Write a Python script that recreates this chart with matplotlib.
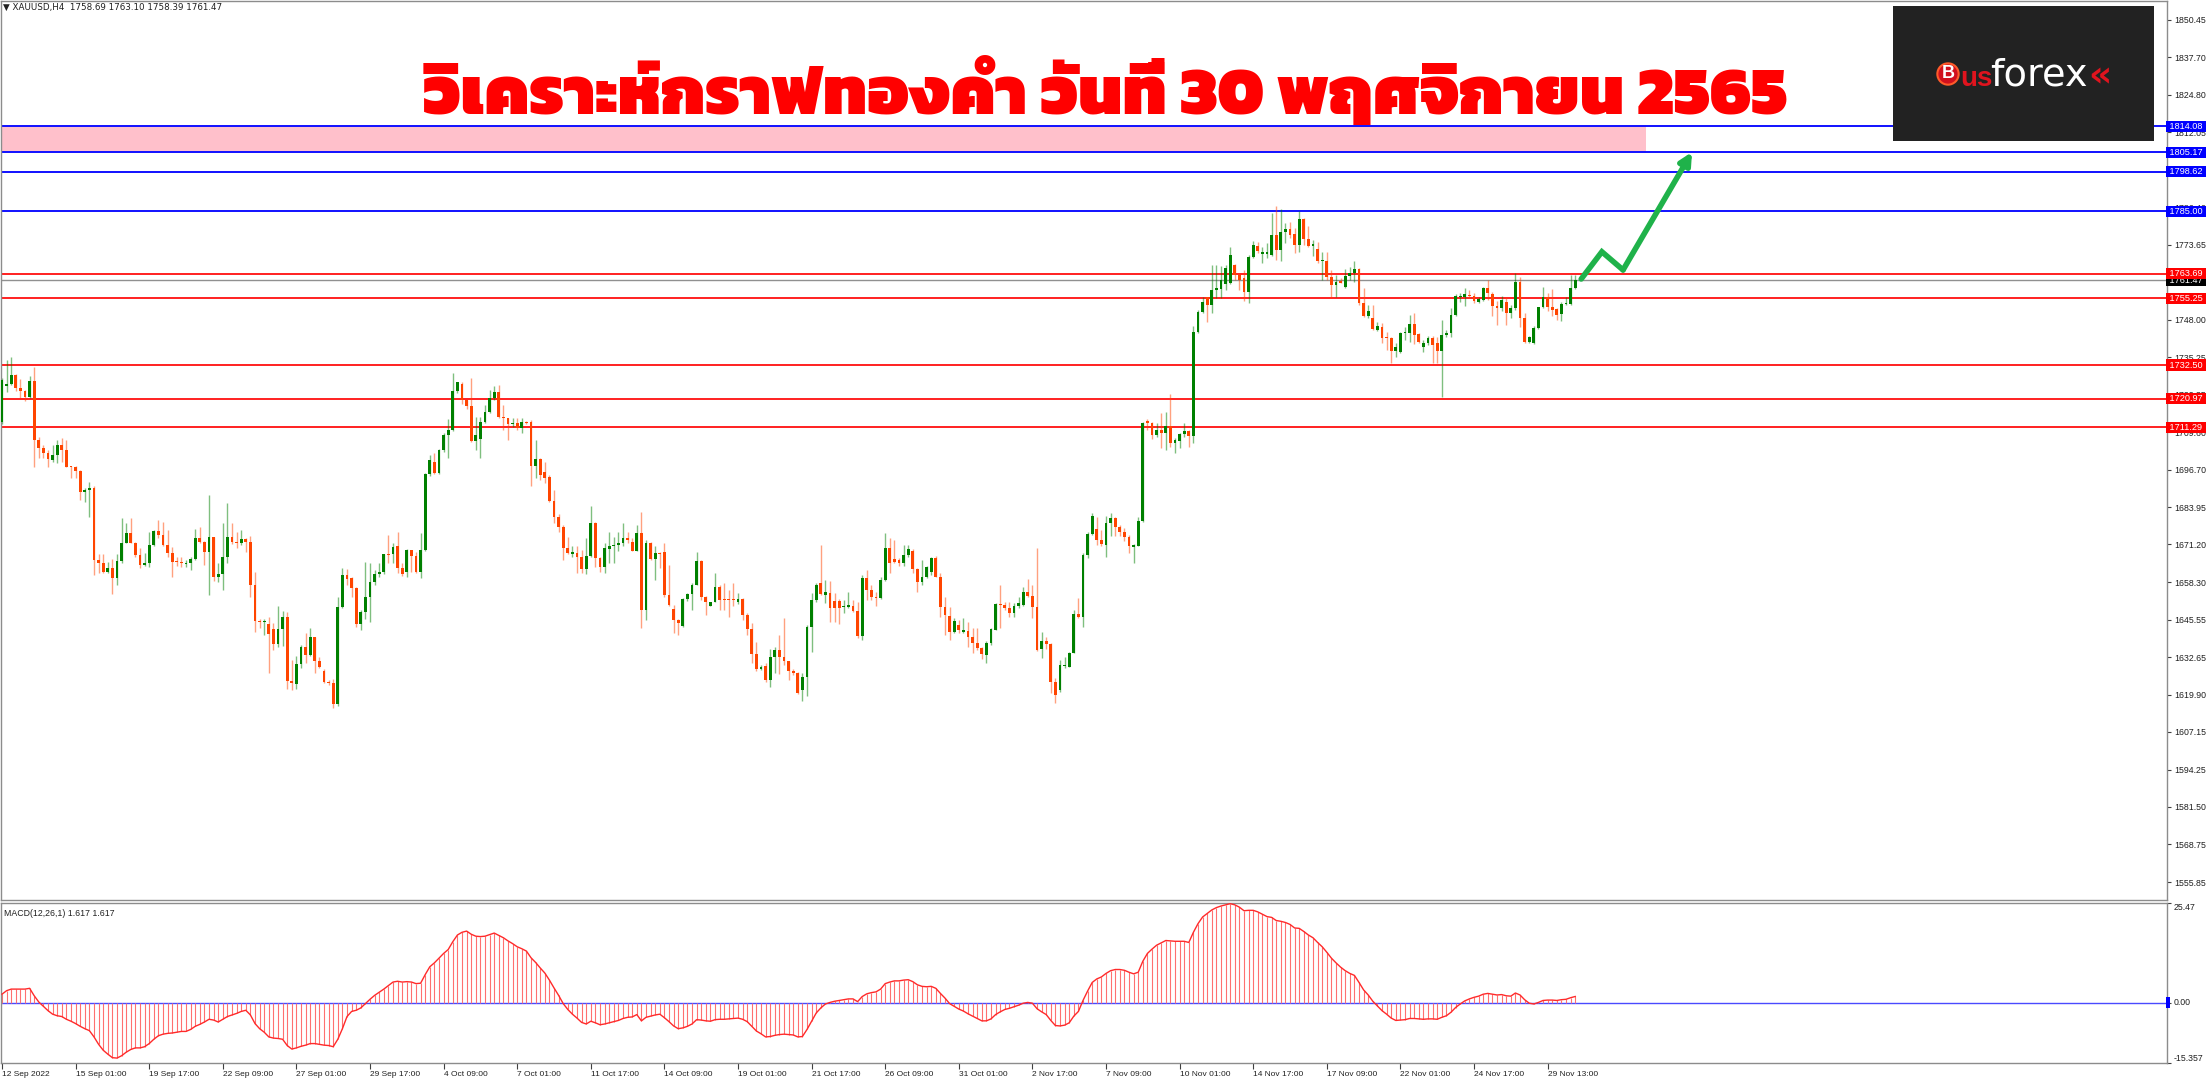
import matplotlib
matplotlib.use("Agg")
import matplotlib.pyplot as plt
from matplotlib import font_manager
from matplotlib.ft2font import FT2Font
from matplotlib.patches import Rectangle

# ---- values (XAUUSD H4) ----
opens = [
    1713.2, 1725.4, 1725.9, 1729.1, 1724.6, 1723.7, 1721.7, 1727.1, 1706.9, 1704.1,
    1702.4, 1700.1, 1701.8, 1705.2, 1703.5, 1697.8, 1697.5, 1696.3, 1689.2, 1689.8,
    1690.4, 1665.9, 1664.8, 1661.7, 1663.3, 1659.6, 1665.5, 1671.8, 1675.2, 1671.8,
    1667.6, 1664.2, 1665.0, 1671.0, 1675.8, 1674.4, 1671.0, 1668.2, 1665.3, 1665.1,
    1664.4, 1664.9, 1666.1, 1673.5, 1672.2, 1668.7, 1673.6, 1660.2, 1661.1, 1667.0,
    1673.6, 1672.2, 1671.6, 1673.0, 1672.2, 1657.4, 1645.2, 1644.8, 1644.0, 1642.2,
    1637.2, 1642.2, 1646.5, 1624.7, 1623.4, 1630.4, 1636.3, 1633.4, 1639.5, 1631.2,
    1628.0, 1624.3, 1623.7, 1616.7, 1649.7, 1660.8, 1659.7, 1656.2, 1644.0, 1648.2,
    1653.4, 1658.3, 1661.0, 1661.8, 1668.0, 1667.9, 1670.6, 1663.0, 1661.9, 1669.3,
    1667.3, 1661.9, 1669.3, 1695.3, 1699.2, 1695.5, 1703.5, 1708.6, 1710.3, 1723.7,
    1726.0, 1720.4, 1718.5, 1706.7, 1707.3, 1713.2, 1716.4, 1721.2, 1723.4, 1714.9,
    1714.3, 1712.4, 1712.8, 1710.9, 1713.2, 1713.2, 1698.0, 1700.3, 1696.1, 1694.4,
    1686.2, 1680.7, 1677.1, 1669.9, 1667.8, 1668.4, 1666.8, 1662.7, 1667.3, 1678.4,
    1666.5, 1663.6, 1669.6, 1670.5, 1671.0, 1671.6, 1673.3, 1672.2, 1669.1, 1675.0,
    1648.8, 1671.8, 1666.1, 1668.2, 1668.7, 1653.9, 1649.0, 1645.4, 1643.4, 1652.5,
    1654.3, 1657.4, 1665.6, 1653.1, 1650.2, 1651.7, 1656.8, 1652.4, 1652.4, 1652.4,
    1651.7, 1652.5, 1647.1, 1642.2, 1633.8, 1628.5, 1629.7, 1624.9, 1632.6, 1635.1,
    1632.9, 1631.2, 1628.1, 1627.4, 1621.5, 1625.8, 1643.1, 1652.2, 1657.9, 1654.0,
    1654.5, 1652.0, 1652.0, 1649.7, 1649.9, 1650.3, 1648.6, 1639.9, 1659.6, 1655.8,
    1653.3, 1652.8, 1659.1, 1669.9, 1666.1, 1665.8, 1664.9, 1667.6, 1669.1, 1662.7,
    1658.5, 1660.2, 1661.9, 1666.5, 1660.2, 1649.9, 1646.8, 1641.4, 1643.7, 1641.4,
    1641.7, 1639.7, 1637.6, 1635.7, 1633.4, 1637.4, 1642.0, 1650.9, 1650.5, 1649.4,
    1647.9, 1650.2, 1650.5, 1655.1, 1653.6, 1649.9, 1635.3, 1638.3, 1637.2, 1624.3,
    1621.5, 1629.6, 1629.4, 1634.2, 1647.4, 1646.3, 1667.6, 1674.8, 1676.5, 1672.7,
    1671.0, 1678.4, 1680.1, 1677.3, 1675.6, 1673.9, 1670.4, 1670.7, 1679.3, 1713.4,
    1712.8, 1708.6, 1710.3, 1709.2, 1711.7, 1705.8, 1706.7, 1709.0, 1710.1, 1708.1,
    1743.9, 1750.5, 1755.7, 1753.0, 1758.2, 1758.4, 1760.2, 1760.5, 1766.7, 1763.3,
    1762.2, 1757.6, 1769.3, 1773.2, 1770.5, 1770.5, 1770.1, 1777.0, 1771.9, 1778.1,
    1778.9, 1777.3, 1773.6, 1782.3, 1775.5, 1773.2, 1772.0, 1767.9, 1768.2, 1762.7,
    1759.9, 1761.0, 1759.1, 1763.0, 1763.9, 1765.3, 1753.6, 1749.1, 1748.5, 1744.5,
    1745.4, 1742.0, 1741.6, 1737.4, 1737.1, 1743.4, 1743.6, 1746.6, 1743.1, 1738.8,
    1740.0, 1741.7, 1740.2, 1737.4, 1742.8, 1743.4, 1749.6, 1755.7, 1755.6, 1756.5,
    1756.1, 1754.2, 1754.8, 1758.7, 1756.8, 1752.7, 1751.9, 1754.2, 1750.4, 1751.9,
    1761.0, 1748.5, 1740.5, 1740.2, 1745.1, 1752.2, 1755.7, 1752.2, 1751.6, 1750.0,
    1753.4, 1753.4, 1758.69]
highs = [
    1728.0, 1734.3, 1735.4, 1729.3, 1727.6, 1724.0, 1728.6, 1732.0, 1708.0, 1705.2,
    1703.5, 1705.2, 1706.9, 1707.5, 1706.9, 1698.0, 1698.0, 1696.6, 1690.4, 1692.7,
    1691.2, 1667.9, 1667.9, 1665.3, 1666.1, 1667.9, 1680.4, 1678.4, 1680.1, 1672.2,
    1669.9, 1668.4, 1675.6, 1676.1, 1679.6, 1678.7, 1676.1, 1670.4, 1667.0, 1667.0,
    1665.9, 1667.0, 1676.4, 1677.3, 1672.4, 1688.1, 1673.9, 1664.8, 1678.4, 1685.3,
    1678.4, 1675.6, 1676.1, 1673.3, 1674.1, 1661.9, 1645.6, 1645.6, 1646.5, 1644.3,
    1650.2, 1648.5, 1648.2, 1631.7, 1633.1, 1636.9, 1641.1, 1642.8, 1639.7, 1632.9,
    1628.5, 1624.8, 1625.1, 1653.4, 1663.0, 1662.7, 1660.0, 1656.8, 1648.8, 1665.3,
    1665.0, 1662.5, 1665.0, 1668.1, 1674.4, 1671.6, 1675.6, 1664.8, 1669.5, 1669.3,
    1668.7, 1675.0, 1695.5, 1701.8, 1702.3, 1703.7, 1709.2, 1714.0, 1729.7, 1726.8,
    1726.6, 1720.6, 1728.0, 1714.9, 1714.9, 1718.9, 1724.0, 1725.4, 1725.7, 1718.9,
    1714.3, 1714.3, 1714.3, 1714.3, 1713.4, 1713.8, 1706.9, 1700.6, 1699.5, 1695.0,
    1689.8, 1681.6, 1677.9, 1673.9, 1670.5, 1670.5, 1669.3, 1673.3, 1684.4, 1679.0,
    1666.8, 1671.8, 1675.6, 1673.9, 1675.6, 1678.4, 1675.6, 1673.3, 1677.9, 1682.4,
    1672.7, 1672.2, 1670.5, 1668.7, 1671.8, 1664.2, 1650.5, 1645.6, 1652.8, 1654.7,
    1657.9, 1668.7, 1665.9, 1653.6, 1651.7, 1661.3, 1657.4, 1658.0, 1655.6, 1657.9,
    1654.5, 1652.8, 1647.7, 1644.3, 1638.0, 1630.0, 1630.6, 1635.4, 1636.3, 1640.3,
    1646.0, 1631.2, 1628.5, 1627.7, 1627.4, 1643.7, 1654.5, 1658.1, 1671.0, 1659.0,
    1658.8, 1654.7, 1652.4, 1652.2, 1655.1, 1652.2, 1651.7, 1660.8, 1662.5, 1657.4,
    1655.1, 1660.2, 1675.2, 1673.3, 1672.7, 1666.5, 1671.0, 1671.0, 1669.5, 1663.0,
    1665.9, 1663.9, 1667.0, 1667.3, 1661.6, 1653.4, 1649.9, 1646.0, 1645.4, 1645.9,
    1644.8, 1642.5, 1642.5, 1636.3, 1638.3, 1642.5, 1651.1, 1657.3, 1651.7, 1651.7,
    1651.3, 1653.4, 1656.8, 1659.3, 1657.4, 1669.9, 1641.4, 1639.5, 1637.4, 1625.4,
    1631.7, 1632.9, 1634.5, 1648.8, 1652.8, 1668.2, 1675.6, 1681.8, 1680.7, 1676.1,
    1680.9, 1682.0, 1680.7, 1677.9, 1676.7, 1674.4, 1671.2, 1680.7, 1713.2, 1714.0,
    1713.2, 1712.8, 1716.0, 1716.6, 1722.6, 1707.5, 1709.2, 1712.8, 1710.3, 1745.7,
    1751.3, 1755.9, 1755.9, 1766.7, 1766.7, 1766.4, 1766.7, 1773.0, 1767.0, 1763.9,
    1765.0, 1770.1, 1775.0, 1774.7, 1773.0, 1774.1, 1784.4, 1786.7, 1785.7, 1780.9,
    1781.5, 1779.2, 1785.3, 1782.7, 1780.0, 1775.3, 1774.7, 1771.3, 1771.3, 1765.0,
    1763.3, 1762.2, 1765.2, 1765.9, 1767.9, 1765.6, 1758.7, 1753.1, 1753.1, 1747.3,
    1747.0, 1743.9, 1742.2, 1740.0, 1743.9, 1745.6, 1749.6, 1750.2, 1743.4, 1741.1,
    1742.5, 1742.5, 1742.2, 1747.9, 1744.5, 1751.9, 1756.8, 1757.0, 1758.7, 1758.2,
    1757.0, 1755.9, 1759.3, 1761.6, 1757.3, 1754.5, 1756.1, 1755.9, 1753.1, 1763.9,
    1762.5, 1750.2, 1742.5, 1745.9, 1752.5, 1759.1, 1757.0, 1758.4, 1751.9, 1753.9,
    1755.7, 1763.3, 1763.10]
lows = [
    1712.5, 1723.4, 1725.7, 1723.7, 1721.1, 1720.2, 1721.1, 1697.5, 1700.6, 1700.6,
    1697.6, 1699.2, 1699.0, 1699.2, 1697.6, 1693.8, 1693.8, 1686.4, 1685.8, 1680.7,
    1660.8, 1661.6, 1661.6, 1661.6, 1654.2, 1657.4, 1665.0, 1671.6, 1671.6, 1667.0,
    1663.0, 1663.8, 1663.6, 1670.5, 1673.3, 1670.5, 1667.0, 1660.2, 1663.8, 1663.4,
    1663.6, 1662.5, 1665.9, 1671.6, 1664.2, 1653.9, 1658.8, 1658.5, 1655.6, 1664.8,
    1671.2, 1669.9, 1671.0, 1668.7, 1653.4, 1641.4, 1642.5, 1640.3, 1627.2, 1635.1,
    1636.3, 1636.5, 1621.8, 1621.5, 1621.8, 1629.1, 1630.6, 1633.1, 1627.2, 1629.0,
    1623.7, 1623.2, 1615.2, 1616.1, 1649.4, 1657.4, 1653.4, 1643.1, 1641.9, 1645.6,
    1644.8, 1657.4, 1660.2, 1661.0, 1665.0, 1664.8, 1661.3, 1660.4, 1660.2, 1661.9,
    1661.6, 1659.9, 1669.0, 1694.6, 1695.3, 1695.3, 1702.9, 1700.6, 1710.0, 1722.9,
    1719.2, 1717.4, 1706.3, 1703.5, 1700.6, 1712.8, 1716.0, 1720.6, 1714.3, 1710.3,
    1706.9, 1711.5, 1710.3, 1709.2, 1712.5, 1691.0, 1693.8, 1693.2, 1692.1, 1685.8,
    1678.4, 1675.6, 1665.9, 1668.0, 1667.0, 1661.6, 1661.6, 1661.1, 1667.0, 1663.6,
    1661.9, 1661.6, 1664.8, 1664.8, 1669.1, 1670.5, 1671.6, 1668.8, 1668.8, 1642.5,
    1645.4, 1665.9, 1659.1, 1663.0, 1653.4, 1650.0, 1640.8, 1640.3, 1643.1, 1652.0,
    1648.8, 1657.4, 1652.2, 1647.1, 1650.0, 1651.4, 1648.8, 1648.8, 1646.3, 1650.0,
    1651.0, 1645.4, 1640.3, 1630.6, 1628.0, 1628.3, 1624.3, 1622.6, 1627.2, 1627.0,
    1630.0, 1624.9, 1626.6, 1620.0, 1617.8, 1619.4, 1634.6, 1651.7, 1654.0, 1651.1,
    1644.8, 1644.8, 1644.0, 1647.9, 1649.5, 1648.0, 1639.1, 1638.6, 1652.2, 1652.2,
    1650.0, 1652.5, 1658.6, 1661.3, 1664.8, 1664.0, 1663.9, 1667.0, 1661.6, 1655.1,
    1657.4, 1659.6, 1660.8, 1660.0, 1646.5, 1640.3, 1638.6, 1640.8, 1641.1, 1640.8,
    1636.1, 1634.0, 1635.1, 1631.9, 1630.8, 1637.0, 1641.8, 1642.5, 1648.8, 1646.5,
    1646.3, 1649.4, 1650.0, 1653.4, 1645.9, 1634.9, 1632.3, 1635.4, 1620.3, 1617.1,
    1620.8, 1629.0, 1629.2, 1634.0, 1645.9, 1643.1, 1666.5, 1674.4, 1671.0, 1670.7,
    1667.0, 1674.1, 1674.1, 1674.1, 1672.5, 1668.4, 1665.0, 1670.5, 1679.0, 1710.3,
    1707.1, 1708.0, 1704.1, 1703.5, 1704.6, 1702.6, 1704.1, 1708.0, 1704.6, 1705.8,
    1743.6, 1750.2, 1747.3, 1750.2, 1755.3, 1755.3, 1758.2, 1760.2, 1761.6, 1758.2,
    1754.5, 1753.6, 1769.0, 1770.7, 1767.3, 1769.0, 1769.8, 1768.4, 1768.2, 1774.1,
    1775.8, 1770.7, 1771.3, 1773.6, 1772.8, 1769.6, 1767.5, 1761.6, 1761.4, 1755.3,
    1755.9, 1760.4, 1758.7, 1761.6, 1761.0, 1753.1, 1748.8, 1748.5, 1744.5, 1744.3,
    1739.9, 1737.7, 1733.1, 1735.4, 1736.5, 1740.9, 1740.5, 1739.7, 1739.9, 1737.1,
    1739.4, 1733.1, 1733.1, 1721.5, 1742.2, 1742.2, 1749.1, 1754.2, 1752.7, 1755.3,
    1753.6, 1753.8, 1754.5, 1754.8, 1749.3, 1746.2, 1750.8, 1746.2, 1748.5, 1751.3,
    1745.6, 1740.2, 1739.9, 1739.7, 1744.7, 1751.9, 1750.8, 1749.1, 1747.9, 1747.7,
    1753.0, 1753.0, 1758.39]
closes = [
    1727.4, 1725.9, 1729.1, 1724.6, 1723.7, 1721.7, 1727.1, 1706.9, 1704.1, 1702.4,
    1700.3, 1701.8, 1705.2, 1703.5, 1697.8, 1697.5, 1696.3, 1689.2, 1689.8, 1690.4,
    1665.9, 1664.8, 1661.7, 1663.3, 1659.6, 1665.5, 1671.8, 1675.2, 1671.8, 1667.6,
    1664.2, 1665.0, 1671.0, 1675.8, 1674.4, 1671.0, 1668.2, 1665.3, 1665.1, 1665.0,
    1665.0, 1666.1, 1673.5, 1672.2, 1668.7, 1673.6, 1660.2, 1661.1, 1667.0, 1673.6,
    1672.2, 1671.6, 1673.0, 1672.2, 1657.4, 1645.2, 1644.8, 1645.2, 1640.6, 1637.2,
    1642.2, 1646.5, 1624.7, 1623.7, 1630.4, 1636.3, 1633.4, 1639.5, 1631.2, 1629.4,
    1624.1, 1623.7, 1616.7, 1649.7, 1660.8, 1659.3, 1656.2, 1644.0, 1648.2, 1653.4,
    1658.3, 1661.0, 1661.8, 1667.9, 1667.7, 1670.4, 1663.0, 1661.1, 1669.3, 1667.3,
    1661.9, 1669.3, 1695.3, 1700.1, 1695.7, 1703.5, 1708.6, 1710.3, 1723.7, 1726.6,
    1720.4, 1718.5, 1706.7, 1708.6, 1713.2, 1716.4, 1721.2, 1723.4, 1714.9, 1714.3,
    1712.4, 1712.8, 1710.9, 1713.2, 1712.8, 1698.0, 1700.3, 1695.0, 1694.0, 1686.2,
    1680.7, 1677.1, 1669.9, 1668.4, 1668.5, 1666.8, 1662.7, 1667.3, 1678.4, 1666.5,
    1663.6, 1669.9, 1670.5, 1671.0, 1671.6, 1673.3, 1672.7, 1669.1, 1675.0, 1648.8,
    1671.8, 1666.1, 1668.2, 1667.8, 1653.9, 1650.5, 1645.4, 1644.3, 1652.5, 1654.3,
    1657.4, 1665.6, 1653.1, 1651.4, 1651.7, 1656.8, 1652.2, 1652.2, 1652.2, 1652.2,
    1652.5, 1647.1, 1642.2, 1633.8, 1628.5, 1629.4, 1624.9, 1632.6, 1635.1, 1632.9,
    1631.2, 1628.1, 1627.4, 1620.3, 1625.8, 1643.1, 1652.2, 1657.3, 1654.3, 1654.9,
    1649.4, 1649.4, 1649.4, 1649.9, 1650.5, 1648.6, 1639.9, 1659.6, 1655.6, 1653.1,
    1653.0, 1659.1, 1669.9, 1664.8, 1665.3, 1664.9, 1667.6, 1669.5, 1662.7, 1658.5,
    1660.2, 1663.4, 1666.5, 1660.2, 1649.9, 1647.1, 1641.4, 1645.2, 1642.0, 1642.0,
    1639.5, 1637.6, 1635.7, 1633.8, 1637.4, 1642.2, 1650.9, 1650.5, 1649.4, 1647.9,
    1650.2, 1651.1, 1655.1, 1653.6, 1649.9, 1635.1, 1638.3, 1637.2, 1624.3, 1619.8,
    1630.0, 1630.0, 1634.2, 1647.4, 1646.3, 1667.6, 1674.8, 1680.9, 1672.7, 1671.3,
    1678.4, 1680.1, 1677.1, 1675.6, 1673.7, 1670.7, 1671.0, 1679.3, 1712.8, 1712.6,
    1708.6, 1710.3, 1709.2, 1711.7, 1705.8, 1706.9, 1709.0, 1710.1, 1708.1, 1743.9,
    1750.5, 1754.2, 1753.0, 1758.2, 1758.8, 1761.6, 1765.6, 1770.1, 1763.3, 1761.4,
    1757.6, 1769.3, 1773.6, 1771.6, 1771.3, 1771.3, 1777.0, 1771.9, 1778.1, 1778.9,
    1777.0, 1773.6, 1782.3, 1775.5, 1773.2, 1773.9, 1767.9, 1768.4, 1762.5, 1759.9,
    1761.0, 1760.7, 1763.0, 1763.9, 1765.3, 1753.6, 1749.1, 1751.1, 1744.7, 1745.9,
    1741.6, 1741.6, 1737.4, 1738.6, 1743.6, 1743.9, 1746.6, 1742.8, 1740.5, 1740.2,
    1741.7, 1739.4, 1737.4, 1742.8, 1743.6, 1749.6, 1756.1, 1755.9, 1756.8, 1756.1,
    1754.5, 1755.0, 1758.7, 1757.0, 1752.7, 1751.9, 1754.8, 1750.4, 1751.9, 1761.0,
    1748.5, 1740.5, 1742.0, 1745.1, 1752.2, 1755.7, 1752.2, 1751.3, 1749.6, 1753.4,
    1753.6, 1758.7, 1761.47]
macd = [
    2.2, 3.1, 3.5, 3.5, 3.5, 3.5, 3.7, 1.8, 0.2, -0.9,
    -2.0, -2.9, -3.3, -3.5, -4.2, -4.7, -5.3, -6.0, -6.6, -7.1,
    -8.7, -10.6, -12.1, -13.1, -14.0, -14.1, -13.5, -12.6, -11.9, -11.5,
    -11.5, -11.2, -10.4, -9.3, -8.4, -8.0, -7.8, -7.7, -7.5, -7.3,
    -7.3, -6.8, -6.0, -5.5, -4.9, -4.2, -4.4, -4.9, -4.2, -3.5,
    -3.1, -2.7, -2.2, -1.9, -3.1, -5.3, -6.6, -7.5, -8.7, -9.0,
    -9.1, -9.3, -10.9, -11.8, -11.5, -11.1, -10.8, -10.4, -10.4, -10.6,
    -10.8, -10.9, -11.2, -9.3, -6.6, -3.5, -2.2, -1.9, -1.3, -0.2,
    0.9, 1.9, 2.7, 3.5, 4.4, 5.3, 5.5, 5.3, 5.4, 5.3,
    4.9, 5.0, 7.2, 9.2, 10.2, 11.4, 12.6, 13.6, 15.6, 17.3,
    18.0, 18.3, 17.5, 17.0, 16.9, 17.0, 17.4, 17.8, 17.2, 16.6,
    15.8, 15.1, 14.3, 13.8, 13.2, 11.5, 10.3, 8.9, 7.6, 5.8,
    3.8, 1.9, -0.2, -1.7, -2.9, -3.9, -5.0, -5.4, -4.7, -5.1,
    -5.6, -5.4, -5.1, -4.8, -4.5, -4.0, -3.7, -3.6, -3.0, -4.6,
    -3.7, -3.4, -3.1, -2.9, -3.8, -4.8, -5.9, -6.6, -6.4, -6.0,
    -5.4, -4.3, -4.4, -4.6, -4.7, -4.3, -4.2, -4.2, -4.1, -4.0,
    -3.9, -4.2, -4.8, -6.0, -7.2, -7.9, -8.7, -8.6, -8.3, -8.1,
    -8.0, -8.1, -8.2, -8.7, -8.6, -6.8, -4.7, -2.6, -1.3, -0.3,
    0.1, 0.4, 0.6, 0.8, 1.0, 1.0, 0.3, 1.6, 2.3, 2.6,
    2.8, 3.5, 4.9, 5.3, 5.6, 5.6, 5.8, 5.9, 5.4, 4.6,
    4.2, 4.1, 4.2, 3.7, 2.4, 1.2, -0.2, -0.9, -1.6, -2.1,
    -2.8, -3.4, -4.0, -4.6, -4.6, -4.1, -3.0, -2.3, -1.7, -1.4,
    -1.0, -0.6, -0.1, 0.1, -0.1, -1.5, -2.3, -3.0, -4.5, -5.8,
    -5.9, -5.7, -5.1, -3.4, -2.2, 0.6, 3.0, 5.2, 6.1, 6.6,
    7.5, 8.2, 8.5, 8.5, 8.3, 7.8, 7.4, 7.8, 10.6, 12.6,
    13.7, 14.7, 15.3, 15.9, 15.8, 15.7, 15.7, 15.7, 15.4, 18.0,
    20.2, 21.9, 22.8, 23.7, 24.3, 24.7, 25.0, 25.3, 25.0, 24.4,
    23.5, 23.6, 23.6, 23.2, 22.6, 22.0, 21.8, 21.0, 20.8, 20.5,
    20.0, 19.1, 19.0, 18.2, 17.3, 16.6, 15.4, 14.3, 12.9, 11.4,
    10.2, 9.1, 8.2, 7.5, 7.0, 5.2, 3.3, 2.0, 0.4, -0.8,
    -2.0, -2.9, -3.9, -4.5, -4.4, -4.3, -4.0, -4.0, -4.1, -4.2,
    -4.1, -4.1, -4.2, -3.7, -3.3, -2.4, -1.2, -0.3, 0.5, 1.0,
    1.4, 1.7, 2.2, 2.4, 2.2, 2.0, 2.1, 1.8, 1.7, 2.5,
    2.0, 0.8, -0.1, -0.3, 0.1, 0.6, 0.7, 0.7, 0.6, 0.8,
    0.9, 1.3, 1.617]

date_labels = ["12 Sep 2022", "15 Sep 01:00", "19 Sep 17:00", "22 Sep 09:00",
               "27 Sep 01:00", "29 Sep 17:00", "4 Oct 09:00", "7 Oct 01:00",
               "11 Oct 17:00", "14 Oct 09:00", "19 Oct 01:00", "21 Oct 17:00",
               "26 Oct 09:00", "31 Oct 01:00", "2 Nov 17:00", "7 Nov 09:00",
               "10 Nov 01:00", "14 Nov 17:00", "17 Nov 09:00", "22 Nov 01:00",
               "24 Nov 17:00", "29 Nov 13:00"]
bars_per_label = 16

price_ticks = [1850.45, 1837.70, 1824.80, 1812.05, 1799.15, 1786.40, 1773.65,
               1760.75, 1748.00, 1735.25, 1722.35, 1709.60, 1696.70, 1683.95,
               1671.20, 1658.30, 1645.55, 1632.65, 1619.90, 1607.15, 1594.25,
               1581.50, 1568.75, 1555.85]
macd_ticks = [-15.357, 0.0, 25.47]

resistance = [1814.08, 1805.17, 1798.62, 1785.00]
support = [1763.69, 1755.25, 1732.50, 1720.97, 1711.29]
last_price = 1761.47
zone_low, zone_high = 1805.17, 1814.08
zone_end_bar = 357.4

# projected move drawn on the chart (bar index, price)
path_bars = [343.3, 347.8, 352.4, 367.4]
path_prices = [1761.9, 1771.2, 1765.0, 1805.3]

title = "วิเคราะห์กราฟทองคำ วันที่ 30 พฤศจิกายน 2565"
header = "XAUUSD,H4  1758.69 1763.10 1758.39 1761.47"
macd_name = "MACD(12,26,1) 1.617 1.617"


def thai_font():
    """ Look for an installed font that actually has Thai glyphs, bold first. """
    best, best_w = None, -1
    for f in font_manager.fontManager.ttflist:
        try:
            if FT2Font(f.fname).get_char_index(ord("ก")) == 0:
                continue
        except Exception:
            continue
        w = f.weight
        if isinstance(w, str):
            w = font_manager.weight_dict.get(w, 400)
        if w > best_w:
            best, best_w = f.fname, w
    return best


plt.rcParams["font.family"] = ["Liberation Sans", "DejaVu Sans"]

W, H = 2209, 1080
fig = plt.figure(figsize=(W / 100, H / 100), dpi=100)


def px_box(x0, y0, x1, y1):
    return [x0 / W, 1 - y1 / H, (x1 - x0) / W, (y1 - y0) / H]


ax = fig.add_axes(px_box(1, 1, 2167, 900))
ax2 = fig.add_axes(px_box(1, 903, 2167, 1063), sharex=ax)

grey = "#8c8c8c"
bull, bear = "#008000", "#ff4500"
n = len(closes)
idx = list(range(n))
cols = [bull if c >= o else bear for o, c in zip(opens, closes)]

# pink target zone and horizontal levels
ax.add_patch(Rectangle((-0.5, zone_low), zone_end_bar + 0.5, zone_high - zone_low,
                       facecolor="#ffc0cb", edgecolor="none", zorder=0.5))
for lvl in resistance:
    ax.axhline(lvl, color="#1010ff", lw=1.4, zorder=1)
for lvl in support:
    ax.axhline(lvl, color="#ff2020", lw=1.4, zorder=1)
ax.axhline(last_price, color="#909090", lw=1.0, zorder=1)

# candles
ax.vlines(idx, lows, highs, colors=cols, lw=1.0, alpha=0.5, zorder=2)
bottoms = [min(o, c) for o, c in zip(opens, closes)]
heights = [max(abs(c - o), 0.35) for o, c in zip(opens, closes)]
ax.bar(idx, heights, bottom=bottoms, width=0.62, color=cols, lw=0, zorder=3)

# projected path with arrow head
green = "#1fb24a"
ax.plot(path_bars[:-1], path_prices[:-1], color=green, lw=4, solid_capstyle="round",
        solid_joinstyle="miter", zorder=4)
ax.annotate("", xy=(path_bars[-1], path_prices[-1]), xytext=(path_bars[-2], path_prices[-2]),
            arrowprops=dict(arrowstyle="-|>,head_length=0.7,head_width=0.35", color=green,
                            lw=4, shrinkA=0, shrinkB=0), zorder=4)

ax.set_xlim(-0.22, 470.65)
ax.set_ylim(1549.7, 1856.9)

# right price scale
ax.yaxis.tick_right()
ax.set_yticks(price_ticks)
ax.set_yticklabels(["%.2f" % t for t in price_ticks])
ax.tick_params(axis="y", length=3, width=0.8, color="#404040", pad=2, labelsize=6.3,
               labelcolor="#202020")
ax.tick_params(axis="x", length=0, labelbottom=False)
for s in ax.spines.values():
    s.set_color(grey)
    s.set_linewidth(1.0)


def price_tag(a, y, text, fc):
    a.text(1.0, y, " " + text + " ", transform=a.get_yaxis_transform(), ha="left",
           va="center", fontsize=6.6, color="white", clip_on=False, zorder=10,
           bbox=dict(boxstyle="square,pad=0.12", fc=fc, ec="none"))


price_tag(ax, last_price, "%.2f" % last_price, "black")
for lvl in resistance:
    price_tag(ax, lvl, "%.2f" % lvl, "#0000ff")
for lvl in support:
    price_tag(ax, lvl, "%.2f" % lvl, "#ff0000")

# MACD panel
ax2.vlines(idx, 0, macd, colors="#ff7070", lw=0.8, zorder=2)
ax2.plot(idx, macd, color="#ff2a2a", lw=1.0, zorder=3)
ax2.axhline(0, color="#4a4aff", lw=1.0, zorder=1)
ax2.set_ylim(macd_ticks[0], macd_ticks[-1])
ax2.yaxis.tick_right()
ax2.set_yticks(macd_ticks)
ax2.set_yticklabels(["-15.357", "0.00", "25.47"])
for lab, va in zip(ax2.get_yticklabels(), ["bottom", "center", "top"]):
    lab.set_verticalalignment(va)
ax2.tick_params(axis="y", length=3, width=0.8, color="#404040", pad=2, labelsize=6.3,
                labelcolor="#202020")
ax2.text(1.0, 0, " ", transform=ax2.get_yaxis_transform(), ha="left", va="center",
         fontsize=6.3, clip_on=False, zorder=10,
         bbox=dict(boxstyle="square,pad=0.1", fc="#0000ff", ec="none"))
ax2.set_xticks([k * bars_per_label for k in range(len(date_labels))])
ax2.set_xticklabels(date_labels)
for lab in ax2.get_xticklabels():
    lab.set_horizontalalignment("left")
ax2.tick_params(axis="x", length=4, width=0.8, color="#404040", pad=2, labelsize=6.0,
                labelcolor="#202020")
for s in ax2.spines.values():
    s.set_color(grey)
    s.set_linewidth(1.0)
ax2.text(0.0015, 0.965, macd_name, transform=ax2.transAxes, ha="left", va="top",
         fontsize=6.3, color="#202020")

# header line
fig.text(3 / W, 1 - 7 / H, "▼ " + header, ha="left", va="center", fontsize=6.3,
         color="#202020", family=["DejaVu Sans"])

# big Thai title
tf = thai_font()
if tf:
    fp = font_manager.FontProperties(fname=tf, size=49)
else:
    fp = font_manager.FontProperties(family="DejaVu Sans", weight="bold", size=49)
fig.text(1105 / W, 1 - 93 / H, title, ha="center", va="center", color="#ff0000",
         fontproperties=fp)

# logo box
fig.add_artist(Rectangle((1893 / W, 1 - 141 / H), (2154 - 1893) / W, 135 / H,
                         transform=fig.transFigure, facecolor="#222222", edgecolor="none",
                         zorder=5))
fig.text(1948 / W, 1 - 74 / H, "B", ha="center", va="center", fontsize=13, weight="bold",
         color="white", zorder=6,
         bbox=dict(boxstyle="circle,pad=0.12", fc="#d0101e", ec="#ff5a2a", lw=1.5))
fig.text(1960 / W, 1 - 86 / H, "us", ha="left", va="baseline", fontsize=20, weight="bold",
         color="#e0141e", zorder=6)
fig.text(1990 / W, 1 - 86 / H, "forex", ha="left", va="baseline", fontsize=27.5,
         color="white", zorder=6, family=["DejaVu Sans"])
fig.text(2088 / W, 1 - 86 / H, "«", ha="left", va="baseline", fontsize=26, weight="bold",
         color="#e0141e", zorder=6, family=["DejaVu Sans"])

fig.savefig("out.png", dpi=100, facecolor="white")
